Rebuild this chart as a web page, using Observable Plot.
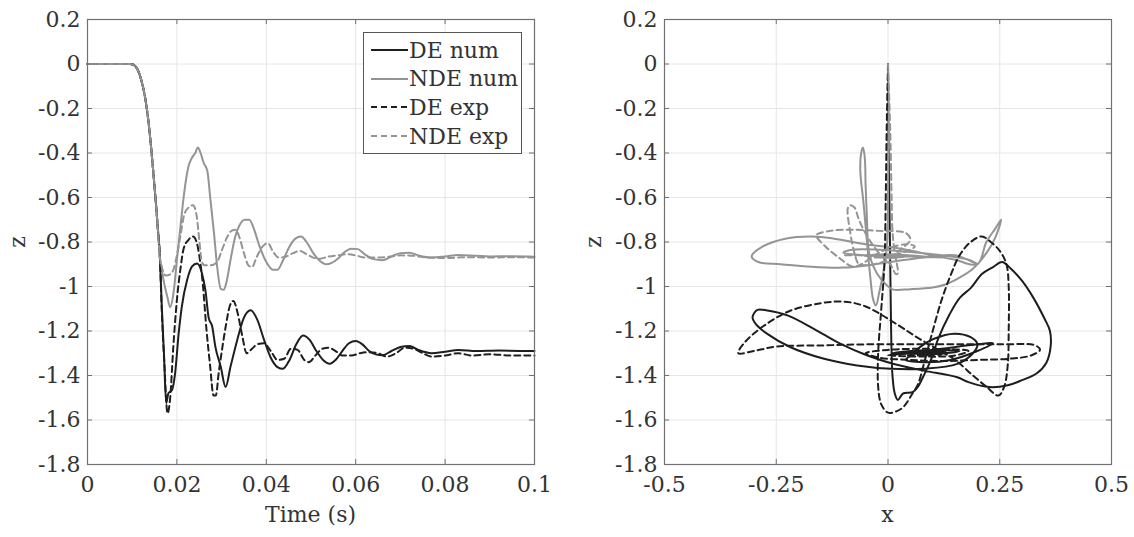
<!DOCTYPE html>
<html>
<head>
<meta charset="utf-8">
<script src="https://cdn.jsdelivr.net/npm/d3@7"></script>
<script src="https://cdn.jsdelivr.net/npm/@observablehq/plot@0.6"></script>
<style>
  html, body { margin: 0; padding: 0; background: #fff; }
  #wrap { position: relative; width: 1134px; height: 537px; overflow: hidden; font-family: "DejaVu Serif", serif; color: #333; }
  .panel { position: absolute; top: 0; }
  .atitle { position: absolute; font-size: 22px; color: #333; white-space: nowrap; transform: translate(-50%, -50%); }
  .legend { position: absolute; background: #fff; border: 1px solid #555; font-size: 22px; color: #333; box-sizing: border-box; }
  .legend .row { position: absolute; left: 0; height: 28px; display: flex; align-items: center; }
  .legend svg { display: block; }
</style>
</head>
<body>
<div id="wrap"></div>
<script>
// ---------- data ----------
// shared initial drop (all four series coincide)
const dropT = [0, 0.005, 0.0095, 0.0102, 0.0107, 0.0112, 0.0117, 0.0122, 0.0127, 0.0132, 0.0137, 0.0142, 0.0147, 0.0152, 0.0157, 0.0162];
const dropZ = [0, 0, 0, -0.002, -0.01, -0.025, -0.05, -0.085, -0.13, -0.19, -0.27, -0.37, -0.48, -0.6, -0.73, -0.87];

// DE num (black solid)
const deNumT = [0.0166,0.0171,0.0176,0.0181,0.0189,0.0196,0.0204,0.0211,0.0223,0.0234,0.0245,0.0256,0.0264,0.0271,0.0279,0.0286,0.0298,0.0309,0.0320,0.0335,0.0350,0.0365,0.0380,0.0395,0.0410,0.0425,0.0437,0.0452,0.0467,0.0482,0.0497,0.0512,0.0527,0.0542,0.0555,0.0570,0.0585,0.0600,0.0615,0.0630,0.0645,0.0660,0.0680,0.0700,0.0720,0.0740,0.0770,0.0800,0.0830,0.0870,0.0920,0.1000];
const deNumZ = [-1.08,-1.30,-1.525,-1.48,-1.465,-1.39,-1.21,-1.09,-0.97,-0.91,-0.897,-0.94,-1.02,-1.14,-1.18,-1.27,-1.36,-1.452,-1.36,-1.24,-1.14,-1.107,-1.15,-1.24,-1.32,-1.362,-1.37,-1.33,-1.26,-1.22,-1.24,-1.29,-1.33,-1.347,-1.33,-1.29,-1.255,-1.245,-1.26,-1.29,-1.305,-1.309,-1.29,-1.272,-1.267,-1.285,-1.30,-1.293,-1.285,-1.29,-1.288,-1.29];

// NDE num (grey solid)
const ndeNumT = [0.0166,0.0170,0.0179,0.0185,0.0193,0.0200,0.0208,0.0215,0.0226,0.0234,0.0241,0.0247,0.0253,0.0260,0.0268,0.0275,0.0283,0.0290,0.0298,0.0305,0.0311,0.0320,0.0330,0.0340,0.0352,0.0362,0.0372,0.0385,0.0400,0.0415,0.0425,0.0438,0.0452,0.0465,0.0478,0.0490,0.0505,0.0520,0.0535,0.0545,0.0560,0.0575,0.0590,0.0605,0.0620,0.0640,0.0660,0.0680,0.0700,0.0720,0.0740,0.0770,0.0800,0.0830,0.0870,0.0900,0.0950,0.1000];
const ndeNumZ = [-0.92,-0.97,-1.05,-1.093,-1.02,-0.88,-0.73,-0.60,-0.46,-0.42,-0.40,-0.375,-0.40,-0.445,-0.48,-0.61,-0.76,-0.91,-1.01,-1.015,-0.98,-0.88,-0.78,-0.725,-0.70,-0.70,-0.74,-0.82,-0.89,-0.925,-0.925,-0.88,-0.82,-0.785,-0.775,-0.80,-0.85,-0.885,-0.90,-0.895,-0.875,-0.845,-0.83,-0.832,-0.855,-0.877,-0.882,-0.865,-0.85,-0.848,-0.86,-0.87,-0.865,-0.858,-0.862,-0.865,-0.864,-0.866];

// DE exp (black dashed)
const deExpT = [0.0166,0.0172,0.0179,0.0185,0.0192,0.0200,0.0208,0.0215,0.0226,0.0236,0.0244,0.0250,0.0258,0.0266,0.0274,0.0282,0.0287,0.0294,0.0302,0.0310,0.0318,0.0326,0.0336,0.0346,0.0356,0.0368,0.0380,0.0395,0.0410,0.0425,0.0440,0.0455,0.0470,0.0485,0.0495,0.0510,0.0525,0.0540,0.0555,0.0570,0.0590,0.0610,0.0630,0.0650,0.0670,0.0690,0.0710,0.0730,0.0750,0.0770,0.0800,0.0830,0.0860,0.0900,0.0950,0.1000];
const deExpZ = [-1.10,-1.35,-1.57,-1.50,-1.27,-1.06,-0.92,-0.83,-0.79,-0.775,-0.80,-0.86,-0.99,-1.19,-1.35,-1.49,-1.49,-1.38,-1.27,-1.17,-1.09,-1.065,-1.12,-1.22,-1.30,-1.28,-1.26,-1.255,-1.29,-1.33,-1.325,-1.28,-1.285,-1.33,-1.34,-1.31,-1.28,-1.275,-1.29,-1.31,-1.31,-1.30,-1.295,-1.30,-1.315,-1.30,-1.275,-1.28,-1.30,-1.315,-1.31,-1.30,-1.31,-1.305,-1.31,-1.31];

// NDE exp (grey dashed)
const ndeExpT = [0.0166,0.0175,0.0185,0.0193,0.0200,0.0208,0.0216,0.0226,0.0236,0.0244,0.0250,0.0256,0.0262,0.0275,0.0290,0.0300,0.0312,0.0322,0.0332,0.0340,0.0350,0.0360,0.0368,0.0378,0.0392,0.0404,0.0414,0.0428,0.0445,0.0460,0.0475,0.0490,0.0505,0.0520,0.0540,0.0560,0.0580,0.0600,0.0620,0.0650,0.0680,0.0700,0.0730,0.0760,0.0800,0.0850,0.0900,0.0950,0.1000];
const ndeExpZ = [-0.91,-0.95,-0.945,-0.92,-0.86,-0.77,-0.68,-0.645,-0.635,-0.68,-0.79,-0.89,-0.905,-0.905,-0.89,-0.84,-0.78,-0.75,-0.745,-0.78,-0.85,-0.905,-0.913,-0.87,-0.82,-0.805,-0.84,-0.87,-0.865,-0.85,-0.84,-0.855,-0.87,-0.875,-0.865,-0.86,-0.855,-0.86,-0.87,-0.87,-0.865,-0.86,-0.862,-0.87,-0.872,-0.868,-0.87,-0.868,-0.87];

// Trajectories in the x-z plane (right panel), in path order
const deNumX = [0,0.001,0.003,0.005,0.007,0.01,0.015,0.022,0.034,0.055,0.067,0.08,0.096,0.112,0.137,0.161,0.186,0.21,0.235,0.255,0.275,0.3,0.325,0.35,0.362,0.364,0.354,0.333,0.3,0.268,0.227,0.18,0.155,0.08,0.013,-0.046,-0.106,-0.166,-0.225,-0.27,-0.292,-0.303,-0.296,-0.27,-0.218,-0.143,-0.069,0.006,0.08,0.155,0.19,0.2,0.185,0.148,0.103,0.073,0.05,0.04,0.08,0.14,0.2,0.235,0.2,0.12,0.04,0.0,0.03,0.1,0.16,0.12,0.05,0.01,0.05,0.13,0.1,0.04,0.07];
const deNumXZ = [0,-0.3,-0.6,-0.9,-1.2,-1.4,-1.48,-1.51,-1.48,-1.475,-1.45,-1.40,-1.33,-1.236,-1.128,-1.05,-1.005,-0.944,-0.913,-0.89,-0.92,-0.975,-1.05,-1.144,-1.198,-1.267,-1.344,-1.39,-1.421,-1.444,-1.452,-1.43,-1.408,-1.378,-1.348,-1.31,-1.258,-1.19,-1.13,-1.108,-1.105,-1.137,-1.168,-1.213,-1.273,-1.325,-1.355,-1.37,-1.37,-1.348,-1.30,-1.26,-1.228,-1.212,-1.235,-1.27,-1.31,-1.33,-1.34,-1.33,-1.29,-1.255,-1.26,-1.28,-1.30,-1.31,-1.30,-1.305,-1.29,-1.285,-1.29,-1.30,-1.30,-1.295,-1.29,-1.292,-1.29];

const ndeNumX = [0,0.001,0.0,-0.002,-0.01,-0.02,-0.027,-0.033,-0.04,-0.047,-0.055,-0.062,-0.06,-0.056,-0.052,-0.05,-0.047,-0.045,-0.04,-0.025,-0.005,0.01,0.05,0.1,0.13,0.16,0.19,0.22,0.24,0.253,0.24,0.22,0.2,0.15,0.1,0.03,-0.05,-0.12,-0.17,-0.23,-0.28,-0.305,-0.29,-0.24,-0.18,-0.1,-0.03,0.04,0.1,0.15,0.2,0.18,0.12,0.05,-0.02,-0.08,-0.1,-0.05,0.05,0.13,0.08,0.0,-0.04,0.0,0.04,0.0];
const ndeNumXZ = [0,-0.3,-0.6,-0.8,-0.93,-1.03,-1.085,-1.06,-0.95,-0.8,-0.62,-0.48,-0.4,-0.375,-0.42,-0.55,-0.7,-0.8,-0.87,-0.94,-0.99,-1.013,-1.012,-1.005,-0.99,-0.96,-0.92,-0.85,-0.78,-0.70,-0.74,-0.8,-0.9,-0.88,-0.86,-0.83,-0.81,-0.785,-0.775,-0.785,-0.82,-0.865,-0.89,-0.9,-0.91,-0.915,-0.9,-0.88,-0.865,-0.86,-0.9,-0.88,-0.86,-0.845,-0.835,-0.835,-0.848,-0.86,-0.865,-0.87,-0.865,-0.855,-0.86,-0.87,-0.865,-0.863];

const deExpX = [0,-0.003,-0.005,-0.008,-0.015,-0.022,-0.022,-0.015,0.0,0.02,0.035,0.055,0.067,0.08,0.1,0.12,0.14,0.16,0.185,0.21,0.23,0.25,0.265,0.27,0.27,0.268,0.26,0.247,0.22,0.19,0.15,0.1,0.066,0.02,-0.05,-0.098,-0.15,-0.22,-0.28,-0.32,-0.335,-0.3,-0.25,-0.15,-0.05,0.05,0.15,0.25,0.33,0.34,0.32,0.27,0.2,0.12,0.05,-0.02,-0.05,0.0,0.1,0.18,0.15,0.08,0.01,0.06,0.12,0.08,0.04,0.07];
const deExpXZ = [0,-0.3,-0.6,-0.9,-1.1,-1.3,-1.45,-1.53,-1.567,-1.56,-1.54,-1.48,-1.44,-1.35,-1.2,-1.06,-0.95,-0.86,-0.8,-0.775,-0.8,-0.84,-0.9,-1.0,-1.2,-1.35,-1.45,-1.49,-1.45,-1.40,-1.33,-1.27,-1.23,-1.17,-1.09,-1.068,-1.075,-1.11,-1.18,-1.25,-1.30,-1.29,-1.27,-1.265,-1.26,-1.26,-1.26,-1.26,-1.265,-1.285,-1.31,-1.325,-1.33,-1.335,-1.33,-1.32,-1.30,-1.285,-1.28,-1.29,-1.31,-1.315,-1.31,-1.30,-1.305,-1.31,-1.31,-1.305];

const ndeExpX = [0,0.005,0.008,0.01,0.015,0.02,0.022,0.018,0.005,-0.02,-0.045,-0.065,-0.075,-0.085,-0.09,-0.085,-0.075,-0.065,-0.05,-0.03,0.0,0.03,0.05,0.04,-0.02,-0.08,-0.13,-0.16,-0.14,-0.11,-0.08,-0.06,-0.03,0.0,0.04,0.06,0.03,-0.02,-0.06,-0.1,-0.06,0.0,0.04,0.02,-0.02,0.0];
const ndeExpXZ = [0,-0.3,-0.6,-0.75,-0.85,-0.9,-0.94,-0.945,-0.9,-0.85,-0.78,-0.7,-0.645,-0.635,-0.65,-0.75,-0.85,-0.9,-0.905,-0.9,-0.88,-0.83,-0.79,-0.76,-0.75,-0.745,-0.75,-0.77,-0.82,-0.87,-0.91,-0.9,-0.86,-0.83,-0.81,-0.82,-0.85,-0.87,-0.86,-0.86,-0.86,-0.865,-0.86,-0.87,-0.868,-0.87];

// axes ticks
const timeTicks = [0, 0.02, 0.04, 0.06, 0.08, 0.1];
const timeTickLabels = ["0", "0.02", "0.04", "0.06", "0.08", "0.1"];
const xTicks = [-0.5, -0.25, 0, 0.25, 0.5];
const xTickLabels = ["-0.5", "-0.25", "0", "0.25", "0.5"];
const zTicks = [0.2, 0, -0.2, -0.4, -0.6, -0.8, -1, -1.2, -1.4, -1.6, -1.8];
const zTickLabels = ["0.2", "0", "-0.2", "-0.4", "-0.6", "-0.8", "-1", "-1.2", "-1.4", "-1.6", "-1.8"];

const seriesNames = ["DE num", "NDE num", "DE exp", "NDE exp"];
const seriesColors = ["#1e1e1e", "#949494", "#1e1e1e", "#949494"];
const seriesDash = [null, null, "6,4", "6,4"];

// ---------- build tables ----------
const zip = (a, b, k1, k2) => a.map((v, i) => ({[k1]: v, [k2]: b[i]}));
const withDrop = (t, z) => zip(dropT.concat(t), dropZ.concat(z), "t", "z");
const timeSeries = [
  withDrop(deNumT, deNumZ),
  withDrop(ndeNumT, ndeNumZ),
  withDrop(deExpT, deExpZ),
  withDrop(ndeExpT, ndeExpZ)
];
const xzSeries = [
  zip(deNumX, deNumXZ, "x", "z"),
  zip(ndeNumX, ndeNumXZ, "x", "z"),
  zip(deExpX, deExpXZ, "x", "z"),
  zip(ndeExpX, ndeExpXZ, "x", "z")
];
const drawOrder = [0, 1, 2, 3];

const H = 537;
const plotTop = 19, plotBottom = 464;
const plotH = plotBottom - plotTop;
const frameColor = "#707070";
const gridColor = "#e6e6e6";
const fontStyle = {fontFamily: "DejaVu Serif, serif", fontSize: "22px", color: "#333", background: "transparent", overflow: "visible"};

function makePanel({width, marginLeft, marginRight, xDomain, xTickVals, xTickLabs, data, xKey, curve}) {
  const plotW = width - marginLeft - marginRight;
  const marks = [
    Plot.gridX(xTickVals, {stroke: gridColor, strokeOpacity: 1}),
    Plot.gridY(zTicks, {stroke: gridColor, strokeOpacity: 1}),
  ];
  for (const i of drawOrder) {
    marks.push(Plot.line(data[i], {
      x: xKey, y: "z", stroke: seriesColors[i], strokeWidth: 2,
      strokeDasharray: seriesDash[i] || undefined, curve
    }));
  }
  marks.push(
    Plot.frame({stroke: frameColor, strokeWidth: 1.2}),
    Plot.tickX(xTickVals, {x: d => d, stroke: frameColor, insetTop: plotH - 5}),
    Plot.tickX(xTickVals, {x: d => d, stroke: frameColor, insetBottom: plotH - 5}),
    Plot.tickY(zTicks, {y: d => d, stroke: frameColor, insetRight: plotW - 5}),
    Plot.tickY(zTicks, {y: d => d, stroke: frameColor, insetLeft: plotW - 5}),
    Plot.axisX(xTickVals, {anchor: "bottom", tickSize: 0, tickPadding: 12, tickFormat: (d) => xTickLabs[xTickVals.indexOf(d)], label: null, fill: "#333"}),
    Plot.axisY(zTicks, {anchor: "left", tickSize: 0, tickPadding: 7, tickFormat: (d) => zTickLabels[zTicks.indexOf(d)], label: null, fill: "#333"})
  );
  return Plot.plot({
    width, height: H,
    marginLeft, marginRight, marginTop: plotTop, marginBottom: H - plotBottom,
    x: {domain: xDomain},
    y: {domain: [-1.8, 0.2]},
    style: fontStyle,
    marks
  });
}

const wrap = document.getElementById("wrap");

const leftPanel = makePanel({
  width: 560, marginLeft: 87, marginRight: 26,
  xDomain: [0, 0.1], xTickVals: timeTicks, xTickLabs: timeTickLabels,
  data: timeSeries, xKey: "t", curve: "monotone-x"
});
leftPanel.classList.add("panel");
leftPanel.style.left = "0px";
wrap.appendChild(leftPanel);

const rightPanel = makePanel({
  width: 574, marginLeft: 104, marginRight: 23,
  xDomain: [-0.5, 0.5], xTickVals: xTicks, xTickLabs: xTickLabels,
  data: xzSeries, xKey: "x", curve: "catmull-rom"
});
rightPanel.classList.add("panel");
rightPanel.style.left = "560px";
wrap.appendChild(rightPanel);

function addTitle(text, x, y, rotate) {
  const d = document.createElement("div");
  d.className = "atitle";
  d.textContent = text;
  d.style.left = x + "px";
  d.style.top = y + "px";
  if (rotate) d.style.transform = "translate(-50%, -50%) rotate(-90deg)";
  wrap.appendChild(d);
}
addTitle("Time (s)", 310.5, 514);
addTitle("z", 17, 241.5, true);
addTitle("x", 887.5, 514);
addTitle("z", 593, 241.5, true);

const leg = document.createElement("div");
leg.className = "legend";
leg.style.left = "363px";
leg.style.top = "32px";
leg.style.width = "159px";
leg.style.height = "122px";
seriesNames.forEach((name, i) => {
  const row = document.createElement("div");
  row.className = "row";
  row.style.top = (3 + i * 28.7) + "px";
  const s = d3.create("svg").attr("width", 45).attr("height", 28);
  s.append("line").attr("x1", 7).attr("x2", 44).attr("y1", 14).attr("y2", 14)
    .attr("stroke", seriesColors[i]).attr("stroke-width", 2)
    .attr("stroke-dasharray", seriesDash[i]);
  row.appendChild(s.node());
  const t = document.createElement("span");
  t.textContent = name;
  row.appendChild(t);
  leg.appendChild(row);
});
wrap.appendChild(leg);
</script>
</body>
</html>
